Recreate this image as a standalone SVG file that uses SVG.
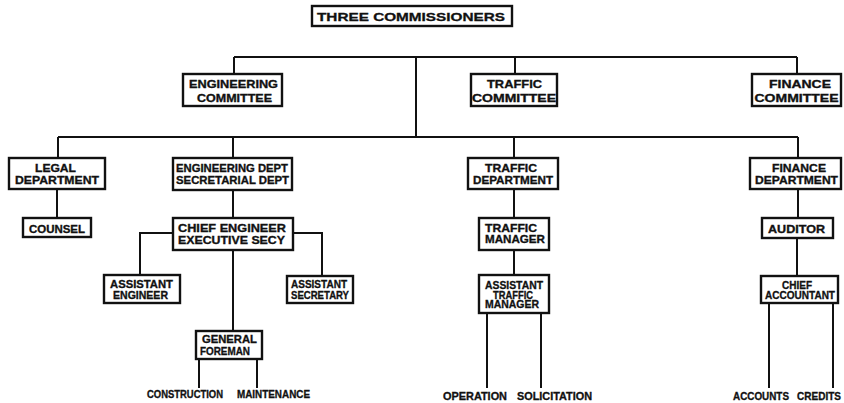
<svg xmlns="http://www.w3.org/2000/svg" width="844" height="403" viewBox="0 0 844 403">
<style>
.bg{fill:#fff}
.box{fill:#fff;stroke:#111;stroke-width:2.4}
.ln{fill:none;stroke:#111;stroke-width:2}
text{font-family:"Liberation Sans",Arial,sans-serif;font-weight:700;font-size:10px;fill:#111;stroke:#111;stroke-width:0.3;text-anchor:middle}
.big{font-size:11.5px}
</style>
<rect class="bg" x="0" y="0" width="844" height="403"/>
<g id="connectors">
<path class="ln" d="M234,57H797M234,57V74M416,57V137M515,57V74M797,57V74"/>
<path class="ln" d="M58,137H798M58,137V158M233,137V158M514,137V158M798,137V158"/>
<path class="ln" d="M57,189V218M233,190V218"/>
<path class="ln" d="M173,233H140V275M293,233H322V276M233,250V331"/>
<path class="ln" d="M199,359V388M257,359V388"/>
<path class="ln" d="M514,189V218M514,250V275M487,313V388M541,313V388"/>
<path class="ln" d="M798,189V218M797,238V276M769,303V388M833,303V388"/>
</g>
<g id="three-commissioners"><rect class="box" x="312" y="6" width="200" height="20"/><text class="big" x="411" y="21" textLength="188" lengthAdjust="spacingAndGlyphs">THREE COMMISSIONERS</text></g>
<g id="engineering-committee"><rect class="box" x="183" y="74" width="99" height="32"/><text x="233.5" y="88" textLength="89" lengthAdjust="spacingAndGlyphs">ENGINEERING</text><text x="234.5" y="102" textLength="75" lengthAdjust="spacingAndGlyphs">COMMITTEE</text></g>
<g id="traffic-committee"><rect class="box" x="471" y="74" width="86" height="32"/><text x="514.5" y="88" textLength="55" lengthAdjust="spacingAndGlyphs">TRAFFIC</text><text x="514" y="102" textLength="84" lengthAdjust="spacingAndGlyphs">COMMITTEE</text></g>
<g id="finance-committee"><rect class="box" x="752" y="74" width="89" height="32"/><text x="800" y="88" textLength="62" lengthAdjust="spacingAndGlyphs">FINANCE</text><text x="796.5" y="102" textLength="84" lengthAdjust="spacingAndGlyphs">COMMITTEE</text></g>
<g id="legal-department"><rect class="box" x="9" y="158" width="96" height="31"/><text x="55.5" y="172" textLength="41" lengthAdjust="spacingAndGlyphs">LEGAL</text><text x="57" y="184" textLength="84" lengthAdjust="spacingAndGlyphs">DEPARTMENT</text></g>
<g id="engineering-dept"><rect class="box" x="173" y="158" width="119" height="32"/><text x="232" y="172" textLength="112" lengthAdjust="spacingAndGlyphs">ENGINEERING DEPT</text><text x="232.5" y="184" textLength="113" lengthAdjust="spacingAndGlyphs">SECRETARIAL DEPT</text></g>
<g id="traffic-department"><rect class="box" x="468" y="158" width="90" height="31"/><text x="511" y="172" textLength="52" lengthAdjust="spacingAndGlyphs">TRAFFIC</text><text x="513" y="184" textLength="80" lengthAdjust="spacingAndGlyphs">DEPARTMENT</text></g>
<g id="finance-department"><rect class="box" x="750" y="158" width="91" height="31"/><text x="799" y="172" textLength="54" lengthAdjust="spacingAndGlyphs">FINANCE</text><text x="796.5" y="184" textLength="83" lengthAdjust="spacingAndGlyphs">DEPARTMENT</text></g>
<g id="counsel"><rect class="box" x="23" y="218" width="68" height="19"/><text x="57" y="233" textLength="56" lengthAdjust="spacingAndGlyphs">COUNSEL</text></g>
<g id="chief-engineer"><rect class="box" x="173" y="218" width="120" height="32"/><text x="232" y="232" textLength="108" lengthAdjust="spacingAndGlyphs">CHIEF ENGINEER</text><text x="231.5" y="244" textLength="107" lengthAdjust="spacingAndGlyphs">EXECUTIVE SECY</text></g>
<g id="traffic-manager"><rect class="box" x="479" y="218" width="70" height="32"/><text x="511" y="232" textLength="52" lengthAdjust="spacingAndGlyphs">TRAFFIC</text><text x="515" y="243" textLength="60" lengthAdjust="spacingAndGlyphs">MANAGER</text></g>
<g id="auditor"><rect class="box" x="762" y="218" width="71" height="20"/><text x="796.5" y="233" textLength="57" lengthAdjust="spacingAndGlyphs">AUDITOR</text></g>
<g id="assistant-engineer"><rect class="box" x="104" y="275" width="76" height="28"/><text x="141.5" y="288" textLength="63" lengthAdjust="spacingAndGlyphs">ASSISTANT</text><text x="140.5" y="299" textLength="55" lengthAdjust="spacingAndGlyphs">ENGINEER</text></g>
<g id="assistant-secretary"><rect class="box" x="287" y="276" width="66" height="27"/><text x="319" y="288" textLength="56" lengthAdjust="spacingAndGlyphs">ASSISTANT</text><text x="320" y="299" textLength="58" lengthAdjust="spacingAndGlyphs">SECRETARY</text></g>
<g id="general-foreman"><rect class="box" x="196" y="331" width="66" height="28"/><text x="229.5" y="343" textLength="55" lengthAdjust="spacingAndGlyphs">GENERAL</text><text x="225" y="355" textLength="50" lengthAdjust="spacingAndGlyphs">FOREMAN</text></g>
<g id="assistant-traffic-manager"><rect class="box" x="479" y="275" width="70" height="38"/><text x="514" y="289" textLength="58" lengthAdjust="spacingAndGlyphs">ASSISTANT</text><text x="513" y="298.5" textLength="40" lengthAdjust="spacingAndGlyphs">TRAFFIC</text><text x="512" y="308" textLength="54" lengthAdjust="spacingAndGlyphs">MANAGER</text></g>
<g id="chief-accountant"><rect class="box" x="761" y="276" width="77" height="27"/><text x="797" y="289" textLength="30" lengthAdjust="spacingAndGlyphs">CHIEF</text><text x="800" y="299" textLength="70" lengthAdjust="spacingAndGlyphs">ACCOUNTANT</text></g>
<g id="construction"><text x="185" y="398" textLength="76" lengthAdjust="spacingAndGlyphs">CONSTRUCTION</text></g>
<g id="maintenance"><text x="273.5" y="398" textLength="73" lengthAdjust="spacingAndGlyphs">MAINTENANCE</text></g>
<g id="operation"><text x="475" y="400" textLength="64" lengthAdjust="spacingAndGlyphs">OPERATION</text></g>
<g id="solicitation"><text x="554.5" y="400" textLength="75" lengthAdjust="spacingAndGlyphs">SOLICITATION</text></g>
<g id="accounts"><text x="761" y="400" textLength="56" lengthAdjust="spacingAndGlyphs">ACCOUNTS</text></g>
<g id="credits"><text x="819" y="400" textLength="44" lengthAdjust="spacingAndGlyphs">CREDITS</text></g>
</svg>
